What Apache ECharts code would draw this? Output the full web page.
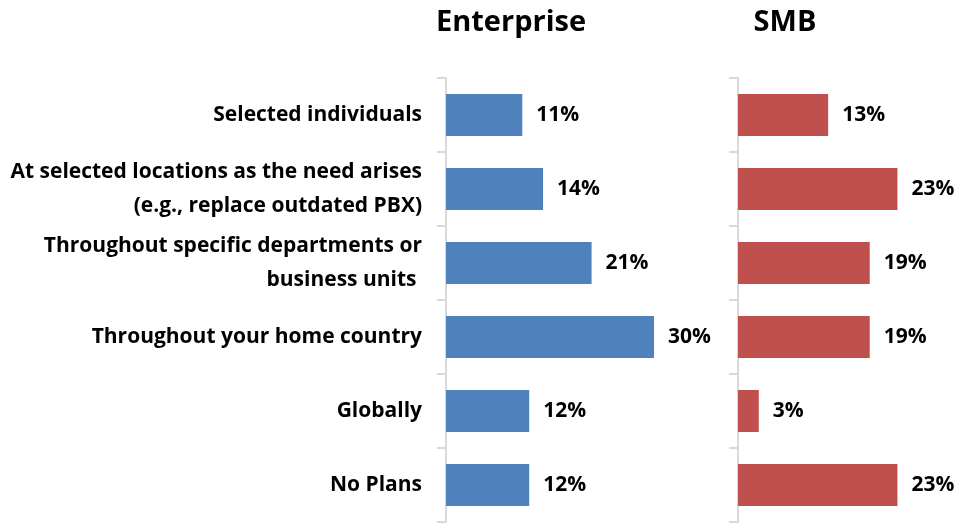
<!DOCTYPE html>
<html>
<head>
<meta charset="utf-8">
<title>Deployment plans: Enterprise vs SMB</title>
<script src="https://cdn.jsdelivr.net/npm/echarts@6/dist/echarts.min.js"></script>
<style>
  html, body { margin: 0; padding: 0; background: #ffffff; }
  #chart { width: 967px; height: 523px; }
</style>
</head>
<body>
<div id="chart"></div>
<script>
// Deployment scope categories, top to bottom
const categories = [
  'Selected individuals',
  'At selected locations as the need arises\n(e.g., replace outdated PBX)',
  'Throughout specific departments or\nbusiness units ',
  'Throughout your home country',
  'Globally',
  'No Plans'
];
// Share of respondents (%)
const enterpriseValues = [11, 14, 21, 30, 12, 12];
const smbValues = [13, 23, 19, 19, 3, 23];
const panelTitles = ['Enterprise', 'SMB'];

const FONT = '"Open Sans", Lato, sans-serif';
const AXIS_GREY = '#d9d9d9';

const chart = echarts.init(document.getElementById('chart'), null, { renderer: 'canvas' });

function catAxis(gridIndex, showLabels) {
  return {
    type: 'category',
    gridIndex: gridIndex,
    data: categories,
    inverse: true,
    axisLine: { show: true, lineStyle: { color: AXIS_GREY, width: 2 } },
    axisTick: { show: true, length: 9, lineStyle: { color: AXIS_GREY, width: 2 } },
    axisLabel: {
      show: showLabels,
      margin: 24,
      color: '#000000',
      fontFamily: FONT,
      fontWeight: 'bold',
      fontSize: 21,
      lineHeight: 34,
      padding: [4, 0, 0, 0],
      align: 'right'
    },
    splitLine: { show: false }
  };
}

function valAxis(gridIndex) {
  return {
    type: 'value',
    gridIndex: gridIndex,
    min: 0,
    max: 30,
    show: false
  };
}

function barSeries(idx, values, color) {
  return {
    type: 'bar',
    xAxisIndex: idx,
    yAxisIndex: idx,
    data: values,
    barCategoryGap: '43%',
    itemStyle: { color: color },
    label: {
      show: true,
      position: 'right',
      distance: 14,
      formatter: '{c}%',
      color: '#000000',
      fontFamily: FONT,
      fontWeight: 'bold',
      fontSize: 21
    },
    silent: true
  };
}

chart.setOption({
  backgroundColor: '#ffffff',
  animation: false,
  title: [
    {
      text: panelTitles[0],
      left: 506, top: 3,
      textAlign: 'center',
      textStyle: { fontFamily: FONT, fontWeight: 'bold', fontSize: 29, color: '#000000' }
    },
    {
      text: panelTitles[1],
      left: 780, top: 3,
      textAlign: 'center',
      textStyle: { fontFamily: FONT, fontWeight: 'bold', fontSize: 29, color: '#000000' }
    }
  ],
  grid: [
    { left: 446, top: 78, width: 208, height: 444 },
    { left: 738, top: 78, width: 208, height: 444 }
  ],
  xAxis: [valAxis(0), valAxis(1)],
  yAxis: [catAxis(0, true), catAxis(1, false)],
  series: [
    barSeries(0, enterpriseValues, '#4f81bd'),
    barSeries(1, smbValues, '#c0504d')
  ]
});
</script>
</body>
</html>
